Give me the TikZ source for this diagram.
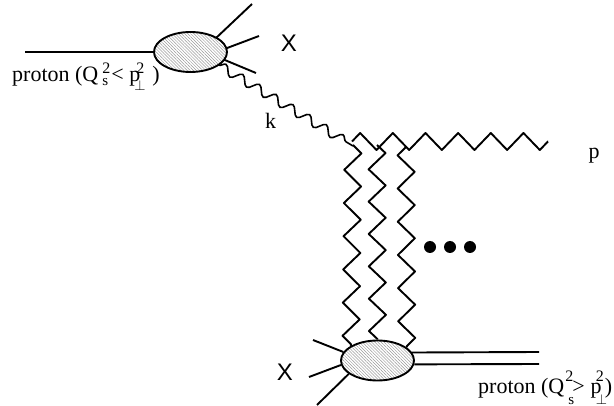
\documentclass[tikz,border=0pt]{standalone}
\usepackage{amsmath}
\usepackage{fontspec}
\setmainfont{Liberation Serif}
\newfontfamily\sanslabel{Liberation Sans}
\usetikzlibrary{shapes,patterns.meta,decorations.pathmorphing}
\newcommand{\HI}[2]{\makebox[0pt][l]{\kern#1\raisebox{#2}{\fontsize{16}{16}\selectfont 2}}}
\newcommand{\LO}[3]{\makebox[0pt][l]{\kern#1\raisebox{#2}{\fontsize{15}{15}\selectfont #3}}}

\tikzset{
  blob/.style={ellipse, draw, line width=1.9pt, minimum width=73pt, minimum height=40pt, inner sep=0pt,
    pattern={Lines[angle=-45,distance=2.2pt,line width=0.5pt]}, pattern color=black!40},
  leg/.style={line width=1.9pt},
  softwave/.style={line width=1.6pt, decorate,
    decoration={snake, segment length=19.5pt, amplitude=4.5pt}},
  hardwave/.style={line width=1.9pt, line join=round, decorate,
    decoration={zigzag, segment length=#1, amplitude=8.5pt}},
  flipwave/.style={line width=1.9pt, line join=round, decorate,
    decoration={zigzag, segment length=#1, amplitude=8.5pt, mirror}},
  dot/.style={circle, fill=black, minimum size=12pt, inner sep=0pt},
  txt/.style={font=\fontsize{22}{24}\selectfont, inner sep=0pt},
  xlabel/.style={font=\sanslabel\fontsize{24}{26}\selectfont, inner sep=0pt}
}

\begin{document}
\begin{tikzpicture}[x=1pt, y=-1pt]

  \useasboundingbox (0,0) rectangle (614,406);

  \node[blob] (blobT) at (190.5,52) {};
  \node[blob] (blobB) at (377.5,360.5) {};

  \coordinate (inT) at (25,52);
  \coordinate (outA) at (252,4);
  \coordinate (outB) at (259,36);
  \coordinate (outC) at (256,73);
  \coordinate (outD) at (313,340);
  \coordinate (outE) at (309,377);
  \coordinate (outF) at (317,405);
  \coordinate (endU) at (539,352);
  \coordinate (endL) at (539,364);
  \coordinate (vtx) at (352,141.5);
  \coordinate (endP) at (548,141.5);
  \coordinate (softEnd) at (353,146);
  \coordinate (topA) at (353,145);
  \coordinate (topB) at (377,145);
  \coordinate (topC) at (406,147);

  %% incoming and X lines, top
  \draw[leg] (inT) -- (blobT.west);
  \draw[leg] (blobT.29) -- (outA);
  \draw[leg] (blobT.6) -- (outB);
  \draw[leg] (blobT.-13) -- (outC);

  %% X lines and proton, bottom
  \draw[leg] (blobB.166) -- (outD);
  \draw[leg] (blobB.187) -- (outE);
  \draw[leg] (blobB.205) -- (outF);
  \draw[leg] (blobB.13) -- (endU);
  \draw[leg] (blobB.-6) -- (endL);

  %% gluons
  \draw[softwave] (blobT.-25) -- (softEnd);
  \draw[hardwave=32.66pt] (vtx) -- (endP);
  \draw[hardwave=33.2pt] (topA) -- (blobB.151);
  \draw[hardwave=32.35pt] (topB) -- (blobB.90);
  \draw[flipwave=33.2pt] (topC) -- (blobB.24);

  \node[dot] (dotA) at (430,247) {};
  \node[dot] (dotB) at (450,247) {};
  \node[dot] (dotC) at (470,247) {};

  \node[txt, anchor=base west] (protonT) at (12,82)
    {proton (Q\HI{4pt}{8pt}\LO{4pt}{-3.5pt}{s}\kern13pt<\kern5.6pt p\kern-6pt\HI{2pt}{8pt}\LO{0pt}{-9pt}{$\perp$}\kern18pt)};
  \node[txt, anchor=base west] (protonB) at (478,394)
    {proton (Q\HI{1pt}{12pt}\LO{4pt}{-11pt}{s}\kern8pt>\kern6pt p\kern-6pt\HI{0pt}{12pt}\LO{0pt}{-11pt}{$\perp$}\kern9pt)};
  \node[txt, anchor=base] (labelK) at (270.5,129) {k};
  \node[txt, anchor=base] (labelP) at (594,159) {p};
  \node[xlabel, anchor=base] (xT) at (289,52) {X};
  \node[xlabel, anchor=base] (xB) at (285,381) {X};

\end{tikzpicture}
\end{document}
